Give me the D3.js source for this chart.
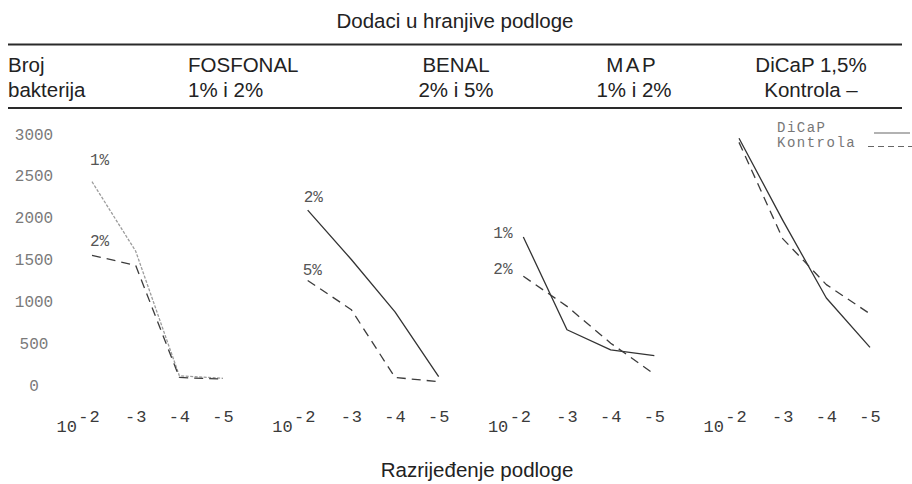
<!DOCTYPE html>
<html>
<head>
<meta charset="utf-8">
<script src="https://cdn.jsdelivr.net/npm/d3@7"></script>
<style>
  body { margin: 0; background: #fff; }
  svg { display: block; }
</style>
</head>
<body>
<svg id="chart" width="912" height="484"></svg>
<script>
/* global d3 */

// dilution steps (10^-2 ... 10^-5) and bacteria count ticks
const dilutions = [-2, -3, -4, -5];
const yTicks = [0, 500, 1000, 1500, 2000, 2500, 3000];

// table header
const headerTop = ["FOSFONAL", "BENAL", "M A P", "DiCaP 1,5%"];
const headerBottom = ["1% i 2%", "2% i 5%", "1% i 2%", "Kontrola –"];

// series
const fosfonal1 = [2430, 1600, 110, 80];
const fosfonal2 = [1550, 1430, 90, 70];
const benal2 = [2090, 1500, 875, 100];
const benal5 = [1250, 900, 90, 40];
const map1 = [1770, 660, 420, 350];
const map2 = [1300, 940, 500, 130];
const dicap = [2950, 1970, 1040, 450];
const kontrola = [2900, 1750, 1200, 850];

const sans = "'Liberation Sans', Arial, sans-serif";
const mono = "'Liberation Mono', 'Courier New', monospace";

const svg = d3.select("#chart");

// panels: which series go where and how they are drawn
const panels = [
    { series: [
        { values: fosfonal1, label: "1%", kind: "dot", dx: -2, dy: -17 },
        { values: fosfonal2, label: "2%", kind: "dash", dx: -2, dy: -9 }
    ] },
    { series: [
        { values: benal2, label: "2%", kind: "solid", dx: -4, dy: -8 },
        { values: benal5, label: "5%", kind: "dash", dx: -5, dy: -5 }
    ] },
    { series: [
        { values: map1, label: "1%", kind: "solid", dx: -30, dy: 1 },
        { values: map2, label: "2%", kind: "dash", dx: -30, dy: -2 }
    ] },
    { series: [
        { values: dicap, label: null, kind: "solid" },
        { values: kontrola, label: null, kind: "dash" }
    ] }
];

// scales
const y = d3.scaleLinear().domain([0, 3000]).range([385, 134]);
const panelX = d3.scaleLinear().domain([0, 3]).range([92, 739]);
const span = 131;

// header
svg.append("text")
    .attr("x", 455).attr("y", 28)
    .attr("text-anchor", "middle")
    .attr("font-family", sans).attr("font-size", 20.5).attr("fill", "#222")
    .text("Dodaci u hranjive podloge");

svg.selectAll("line.rule")
    .data([44.5, 108])
    .enter().append("line")
    .attr("class", "rule")
    .attr("x1", 8).attr("x2", 902)
    .attr("y1", d => d).attr("y2", d => d)
    .attr("stroke", "#2a2a2a").attr("stroke-width", 2);

const head = svg.append("g")
    .attr("font-family", sans).attr("font-size", 20.5).attr("fill", "#222");

head.append("text").attr("x", 8).attr("y", 72).text("Broj");
head.append("text").attr("x", 8).attr("y", 97).text("bakterija");

const headX = [null, 456, 631, 811];
headerTop.forEach((t, i) => {
    head.append("text")
        .attr("x", i === 0 ? 188 : headX[i]).attr("y", 72)
        .attr("text-anchor", i === 0 ? "start" : "middle")
        .attr("word-spacing", i === 2 ? -2 : 0)
        .text(t);
    head.append("text")
        .attr("x", i === 0 ? 188 : headX[i] + (i === 2 ? 3 : 0)).attr("y", 97)
        .attr("text-anchor", i === 0 ? "start" : "middle")
        .text(headerBottom[i]);
});

// y axis (labels only, typewriter style)
svg.append("g")
    .attr("transform", "translate(34,0)")
    .call(d3.axisLeft(y).tickValues(yTicks).tickSize(0).tickPadding(0)
        .tickFormat(d3.format("d")))
    .call(g => g.select(".domain").remove())
    .attr("font-family", mono).attr("font-size", 16).attr("color", "#7a7a7a")
    .selectAll("text")
    .attr("text-anchor", "middle")
    .attr("x", 0);

const line = d3.line();

panels.forEach((p, i) => {
    const x0 = panelX(i);
    const x = d3.scaleLinear().domain([-2, -5]).range([x0, x0 + span]);

    // x axis: 10^-2  -3  -4  -5
    const ax = svg.append("g")
        .attr("transform", "translate(0,422)")
        .call(d3.axisBottom(x).tickValues(dilutions).tickSize(0)
            .tickFormat(d => "-" + Math.abs(d)))
        .call(g => g.select(".domain").remove())
        .attr("font-family", mono).attr("font-size", 17).attr("color", "#3a3a3a");
    ax.selectAll("text")
        .attr("y", 0).attr("dy", 0)
        .attr("letter-spacing", 1)
        .attr("x", d => d === -2 ? -3 : 0);

    svg.append("text")
        .attr("x", x(-2) - 15).attr("y", 432)
        .attr("text-anchor", "end")
        .attr("font-family", mono).attr("font-size", 17).attr("fill", "#3a3a3a")
        .text("10");

    p.series.forEach(s => {
        const pts = s.values.map((v, k) => [x(dilutions[k]), y(v)]);
        const path = svg.append("path")
            .attr("d", line(pts))
            .attr("fill", "none")
            .attr("stroke-linejoin", "round");
        if (s.kind === "dot") {
            path.attr("stroke", "#9c9c9c").attr("stroke-width", 1.3)
                .attr("stroke-dasharray", "3,1.5");
        } else if (s.kind === "dash") {
            path.attr("stroke", "#3c3c3c").attr("stroke-width", 1.3)
                .attr("stroke-dasharray", "9,6");
        } else {
            path.attr("stroke", "#333").attr("stroke-width", 1.3);
        }

        if (s.label) {
            svg.append("text")
                .attr("x", pts[0][0] + s.dx).attr("y", pts[0][1] + s.dy)
                .attr("font-family", mono).attr("font-size", 16).attr("fill", "#555")
                .text(s.label);
        }
    });
});

// legend in the last panel
const legend = svg.append("g")
    .attr("font-family", mono).attr("font-size", 14).attr("fill", "#777")
    .attr("letter-spacing", 1.5);
legend.append("text").attr("x", 777).attr("y", 132).text("DiCaP");
legend.append("text").attr("x", 777).attr("y", 147).text("Kontrola");
legend.append("line")
    .attr("x1", 874).attr("x2", 910).attr("y1", 133).attr("y2", 133)
    .attr("stroke", "#666").attr("stroke-width", 1.2);
legend.append("line")
    .attr("x1", 868).attr("x2", 912).attr("y1", 146.5).attr("y2", 146.5)
    .attr("stroke", "#666").attr("stroke-width", 1.2)
    .attr("stroke-dasharray", "6,4");

// footer
svg.append("text")
    .attr("x", 477).attr("y", 477)
    .attr("text-anchor", "middle")
    .attr("font-family", sans).attr("font-size", 20.5).attr("fill", "#222")
    .text("Razrijeđenje podloge");
</script>
</body>
</html>
